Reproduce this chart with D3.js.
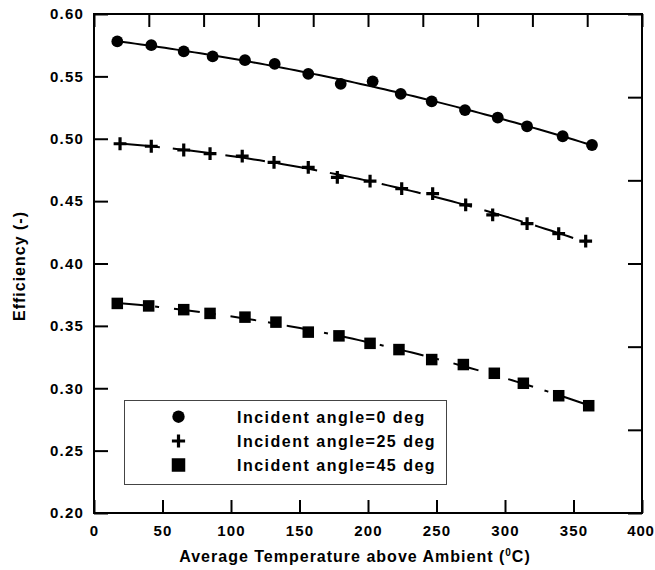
<!DOCTYPE html>
<html><head><meta charset="utf-8">
<script src="https://cdn.jsdelivr.net/npm/d3@7"></script>
<style>body{margin:0;background:#fff}svg{display:block}</style>
</head><body>
<svg id="chart" width="655" height="570"></svg>
<script>
// ---- data ----
const temps0 = [17.0,41.8,65.5,86.6,110.2,131.9,156.4,180.1,203.4,223.9,246.5,270.8,294.7,316.1,342.1,363.5];
const eff0   = [0.578,0.575,0.570,0.566,0.563,0.560,0.552,0.544,0.546,0.536,0.530,0.523,0.517,0.510,0.502,0.495];
const temps25 = [19.0,41.8,65.5,84.7,108.2,131.4,156.4,177.6,201.5,224.6,247.2,271.3,291.0,316.1,339.2,358.9];
const eff25   = [0.496,0.494,0.491,0.488,0.486,0.481,0.477,0.469,0.466,0.460,0.456,0.447,0.439,0.432,0.424,0.418];
const temps45 = [17.0,39.9,65.5,84.7,110.2,132.8,156.4,178.8,201.5,222.6,246.5,269.6,292.2,313.4,339.2,361.1];
const eff45   = [0.368,0.366,0.363,0.360,0.357,0.353,0.345,0.342,0.336,0.331,0.323,0.319,0.312,0.304,0.294,0.286];
const seriesNames = ["Incident angle=0 deg","Incident angle=25 deg","Incident angle=45 deg"];
const xTicks = [0,50,100,150,200,250,300,350,400];
const yTicks = [0.20,0.25,0.30,0.35,0.40,0.45,0.50,0.55,0.60];
const xTopDivisions = [0,1,2,3,4,5,6,7,8,9,10];
const yRightDivisions = [0,1,2,3,4,5,6];
const xTitle = "Average Temperature above Ambient (";
const yTitle = "Efficiency (-)";

// ---- layout ----
const L = 94, R = 642, T = 14, B = 513;
const svg = d3.select("#chart");
const font = "Arial, 'Liberation Sans', sans-serif";
const x = d3.scaleLinear().domain([0,400]).range([L,R]);
const y = d3.scaleLinear().domain([0.20,0.60]).range([B,T]);
const xTop = d3.scaleLinear().domain([0,10]).range([L,R]);
const yRight = d3.scaleLinear().domain([0,6]).range([B,T]);

function styleAxis(g){
  g.select(".domain").remove();
  g.selectAll(".tick line").attr("stroke","#000").attr("stroke-width",2);
  g.selectAll(".tick text").attr("font-family",font).attr("font-size",15)
    .attr("font-weight","bold").attr("fill","#000").attr("letter-spacing","1.2px");
}
const gx = svg.append("g").attr("transform",`translate(0,${B})`)
  .call(d3.axisBottom(x).tickValues(xTicks).tickFormat(d3.format("d")).tickSize(-13).tickPadding(12))
  .call(styleAxis);
// keep the last label inside the page edge
gx.selectAll(".tick text").filter(d=>d===400).attr("letter-spacing","0.8px").attr("dx",-1.5);
svg.append("g").attr("transform",`translate(${L},0)`)
  .call(d3.axisLeft(y).tickValues(yTicks).tickFormat(d3.format(".2f")).tickSize(-14).tickPadding(10))
  .call(styleAxis);
svg.append("g").attr("transform",`translate(0,${T})`)
  .call(d3.axisTop(xTop).tickValues(xTopDivisions).tickFormat("").tickSize(-13))
  .call(styleAxis);
svg.append("g").attr("transform",`translate(${R},0)`)
  .call(d3.axisRight(yRight).tickValues(yRightDivisions).tickFormat("").tickSize(-14))
  .call(styleAxis);
svg.append("rect").attr("x",L).attr("y",T).attr("width",R-L).attr("height",B-T)
  .attr("fill","none").attr("stroke","#000").attr("stroke-width",2);

// ---- quadratic least-squares trend ----
function quadFit(xs, ys){
  let S = [[0,0,0],[0,0,0],[0,0,0]], V=[0,0,0];
  xs.forEach((xv,i)=>{
    const p=[1,xv,xv*xv];
    for(let a=0;a<3;a++){ V[a]+=p[a]*ys[i]; for(let b=0;b<3;b++) S[a][b]+=p[a]*p[b]; }
  });
  const M = S.map((r,i)=>[...r,V[i]]);
  for(let i=0;i<3;i++){
    for(let k=i+1;k<3;k++){
      const f=M[k][i]/M[i][i];
      for(let j=i;j<4;j++) M[k][j]-=f*M[i][j];
    }
  }
  const c=[0,0,0];
  for(let i=2;i>=0;i--){
    let s=M[i][3];
    for(let j=i+1;j<3;j++) s-=M[i][j]*c[j];
    c[i]=s/M[i][i];
  }
  return xv=>c[0]+c[1]*xv+c[2]*xv*xv;
}

const series = [
  {t:temps0, e:eff0, dash:null, marker:"circle"},
  {t:temps25, e:eff25, dash:"40,13", marker:"cross"},
  {t:temps45, e:eff45, dash:"26,12,4,15", marker:"square"}
];
const line = d3.line().x(d=>x(d[0])).y(d=>y(d[1]));

function drawMarker(g, type, cx, cy, big){
  if(type==="circle"){
    g.append("circle").attr("cx",cx).attr("cy",cy).attr("r",big?6.2:5.9).attr("fill","#000");
  } else if(type==="square"){
    const s = big?13.5:11.5;
    g.append("rect").attr("x",cx-s/2).attr("y",cy-s/2).attr("width",s).attr("height",s).attr("fill","#000");
  } else {
    const a = big?6.6:6.4;
    g.append("path").attr("d",`M${cx-a},${cy}H${cx+a}M${cx},${cy-a}V${cy+a}`)
      .attr("stroke","#000").attr("stroke-width",3.2).attr("fill","none");
  }
}

series.forEach(s=>{
  const f = quadFit(s.t, s.e);
  const x0 = d3.min(s.t), x1 = d3.max(s.t);
  const pts = d3.range(0,81).map(i=>{const xv=x0+(x1-x0)*i/80; return [xv,f(xv)];});
  const p = svg.append("path").attr("d",line(pts)).attr("fill","none")
    .attr("stroke","#000").attr("stroke-width",2);
  if(s.dash) p.attr("stroke-dasharray",s.dash);
  const g = svg.append("g");
  s.t.forEach((tv,i)=>drawMarker(g, s.marker, x(tv), y(s.e[i]), false));
});

// ---- legend ----
const lg = svg.append("g");
lg.append("rect").attr("x",124.5).attr("y",400.5).attr("width",322).attr("height",84)
  .attr("fill","#fff").attr("stroke","#444").attr("stroke-width",1);
const legY = [416.7, 441, 465];
series.forEach((s,i)=>{
  drawMarker(lg, s.marker, 178.5, legY[i], true);
  lg.append("text").attr("x",237).attr("y",legY[i]+5.8).text(seriesNames[i])
    .attr("font-family",font).attr("font-size",16).attr("font-weight","bold")
    .attr("letter-spacing","1.5px").attr("fill","#000");
});

// ---- titles ----
const xt = svg.append("text").attr("x",355).attr("y",562).attr("text-anchor","middle")
  .attr("font-family",font).attr("font-size",16).attr("font-weight","bold")
  .attr("letter-spacing","1px").attr("fill","#000");
xt.append("tspan").text(xTitle);
xt.append("tspan").text("0").attr("font-size",10).attr("dy",-6);
xt.append("tspan").text("C)").attr("dy",6);

svg.append("text").attr("transform","translate(25,266) rotate(-90)").attr("text-anchor","middle")
  .attr("font-family",font).attr("font-size",16).attr("font-weight","bold")
  .attr("letter-spacing","1px").attr("fill","#000").text(yTitle);
</script>
</body></html>
